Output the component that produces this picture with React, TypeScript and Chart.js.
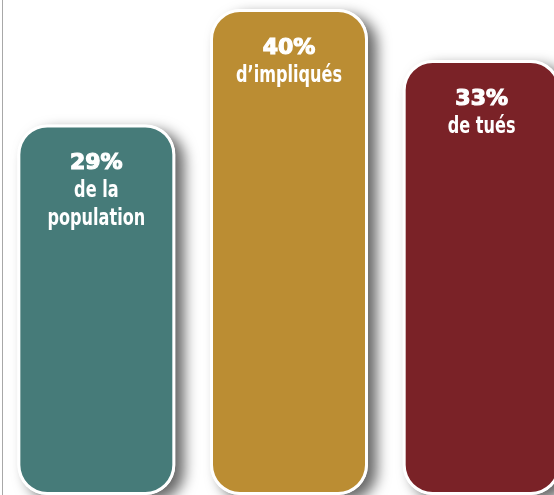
import React, { useEffect, useRef } from "react";
import { Chart, registerables } from "chart.js";

Chart.register(...registerables);

const categories = ["population", "impliqués", "tués"];
const percentValues = [29, 40, 33];
// bar heights as drawn in the picture (not to scale with the percentages)
const barHeights = [30.5, 40, 35.8];
const captionLines = [["de la", "population"], ["d’impliqués"], ["de tués"]];
const barColors = ["#467B79", "#BB8D33", "#7A2227"];

const shadowPlugin = {
  id: "barShadow",
  beforeDatasetsDraw(chart: any) {
    const ctx = chart.ctx;
    const meta = chart.getDatasetMeta(0);
    ctx.save();
    ctx.shadowColor = "rgba(0,0,0,0.6)";
    ctx.shadowBlur = 14;
    ctx.shadowOffsetX = 9;
    ctx.shadowOffsetY = 6;
    ctx.fillStyle = "#ffffff";
    meta.data.forEach((el: any) => {
      const { x, y, base, width } = el.getProps(["x", "y", "base", "width"], true);
      ctx.beginPath();
      ctx.roundRect(x - width / 2, y, width, base - y, 30);
      ctx.fill();
    });
    ctx.restore();
  },
};

const labelPlugin = {
  id: "barLabels",
  afterDatasetsDraw(chart: any) {
    const ctx = chart.ctx;
    const meta = chart.getDatasetMeta(0);
    ctx.save();
    ctx.fillStyle = "#ffffff";
    ctx.strokeStyle = "#ffffff";
    ctx.textAlign = "center";
    ctx.textBaseline = "alphabetic";
    meta.data.forEach((el: any, i: number) => {
      const { x, y } = el.getProps(["x", "y"], true);
      ctx.font = "bold 22px 'DejaVu Sans'";
      ctx.lineWidth = 1.2;
      ctx.fillText(percentValues[i] + "%", x, y + 45);
      ctx.strokeText(percentValues[i] + "%", x, y + 45);
      ctx.save();
      ctx.translate(x, y);
      ctx.scale(0.7, 1);
      ctx.font = "bold 23px 'DejaVu Sans'";
      captionLines[i].forEach((line, j) => {
        ctx.fillText(line, 0, 73 + j * 28);
      });
      ctx.restore();
    });
    ctx.restore();
  },
};

export default function App() {
  const canvasRef = useRef<HTMLCanvasElement>(null);

  useEffect(() => {
    if (!canvasRef.current) return;
    const chart = new Chart(canvasRef.current, {
      type: "bar",
      data: {
        labels: categories,
        datasets: [
          {
            data: barHeights,
            backgroundColor: barColors,
            borderColor: "#ffffff",
            borderWidth: 3,
            borderRadius: 30,
            borderSkipped: false,
            barPercentage: 0.82,
            categoryPercentage: 1,
          },
        ],
      },
      options: {
        responsive: false,
        animation: false,
        layout: { padding: 0 },
        plugins: {
          legend: { display: false },
          tooltip: { enabled: false },
        },
        scales: {
          x: { display: false },
          y: { display: false, min: 0, max: 40.74 },
        },
      },
      plugins: [shadowPlugin, labelPlugin],
    });
    return () => chart.destroy();
  }, []);

  return (
    <div
      style={{
        position: "fixed",
        left: 0,
        top: 0,
        width: 554,
        height: 495,
        overflow: "hidden",
        background: "#ffffff",
      }}
    >
      <canvas
        ref={canvasRef}
        width={578}
        height={495}
        style={{ position: "absolute", left: 0, top: 0, width: 578, height: 495 }}
      />
      <div
        style={{
          position: "absolute",
          left: 2,
          top: 0,
          width: 1,
          height: 495,
          background: "#a8a8a8",
        }}
      />
    </div>
  );
}
